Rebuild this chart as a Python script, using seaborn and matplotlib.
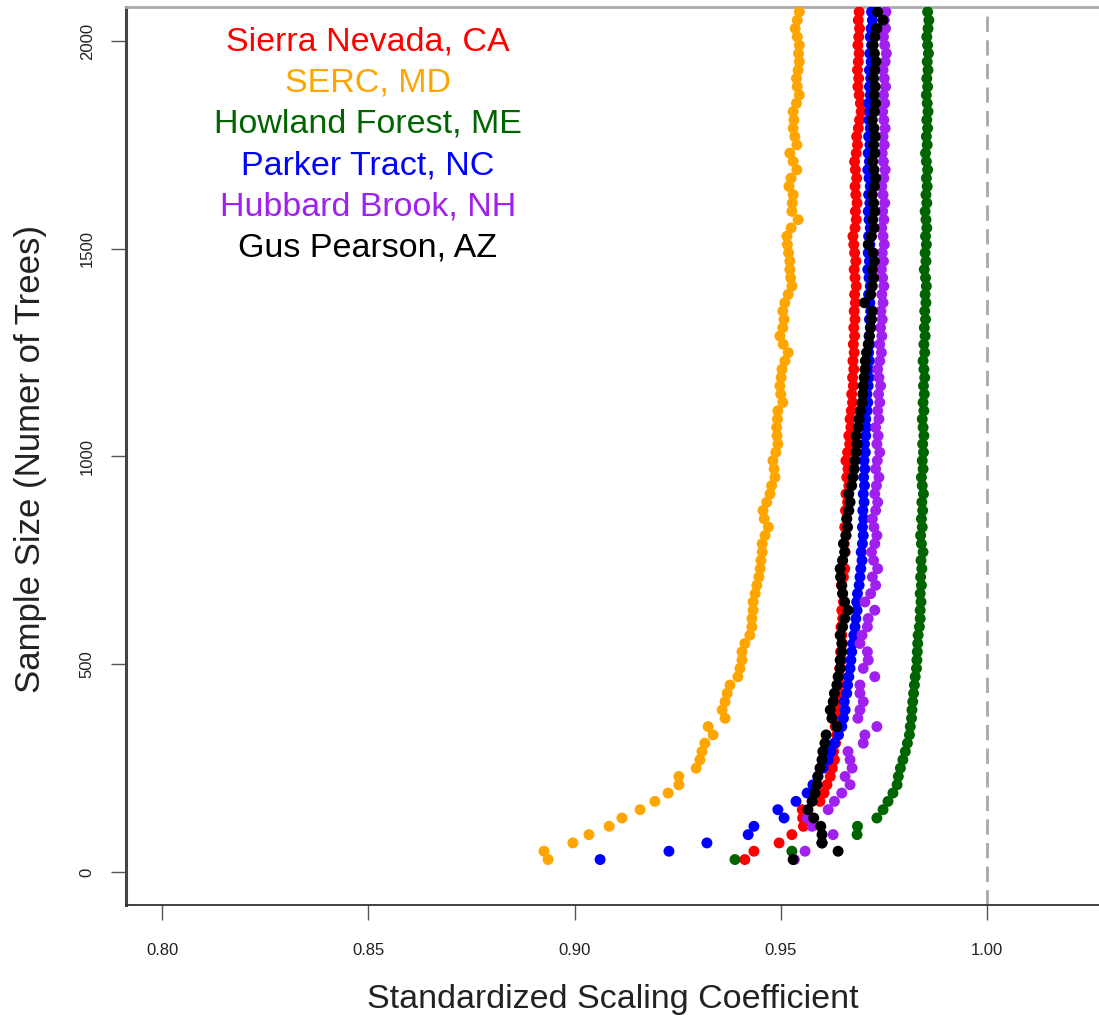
import numpy as np
import pandas as pd
import matplotlib
matplotlib.use("Agg")
import matplotlib.pyplot as plt
import seaborn as sns

# Sample sizes (number of trees) at which the scaling coefficient was estimated
sample_sizes = np.arange(30, 2080, 20)

sites = ["Sierra Nevada, CA", "SERC, MD", "Howland Forest, ME",
         "Parker Tract, NC", "Hubbard Brook, NH", "Gus Pearson, AZ"]
site_colors = ["#FF0000", "#FFA500", "#006400", "#0000FF", "#A020F0", "#000000"]

sierra_nevada = [
    0.9413, 0.9435, 0.9496, 0.9527, 0.9555, 0.9553, 0.9552, 0.9595, 0.9605, 0.9612,
    0.9620, 0.9625, 0.9630, 0.9628, 0.9633, 0.9636, 0.9632, 0.9638, 0.9635, 0.9639,
    0.9642, 0.9640, 0.9645, 0.9643, 0.9648, 0.9645, 0.9650, 0.9648, 0.9646, 0.9650,
    0.9648, 0.9652, 0.9650, 0.9647, 0.9652, 0.9655, 0.9650, 0.9656, 0.9654, 0.9658,
    0.9655, 0.9660, 0.9657, 0.9662, 0.9658, 0.9665, 0.9660, 0.9663, 0.9658, 0.9662,
    0.9667, 0.9665, 0.9670, 0.9668, 0.9671, 0.9674, 0.9672, 0.9676, 0.9674, 0.9677,
    0.9675, 0.9678, 0.9676, 0.9679, 0.9677, 0.9680, 0.9678, 0.9681, 0.9679, 0.9683,
    0.9680, 0.9678, 0.9682, 0.9679, 0.9677, 0.9675, 0.9680, 0.9683, 0.9681, 0.9685,
    0.9682, 0.9680, 0.9684, 0.9681, 0.9679, 0.9683, 0.9686, 0.9684, 0.9688, 0.9691,
    0.9695, 0.9693, 0.9690, 0.9687, 0.9689, 0.9686, 0.9688, 0.9690, 0.9687, 0.9689,
    0.9691, 0.9688, 0.9690,
]

serc = [
    0.8936, 0.8926, 0.8996, 0.9035, 0.9084, 0.9115, 0.9159, 0.9195, 0.9227, 0.9253,
    0.9253, 0.9295, 0.9304, 0.9309, 0.9316, 0.9336, 0.9324, 0.9365, 0.9358, 0.9365,
    0.9370, 0.9377, 0.9396, 0.9401, 0.9406, 0.9406, 0.9413, 0.9425, 0.9430, 0.9430,
    0.9433, 0.9433, 0.9438, 0.9442, 0.9447, 0.9450, 0.9452, 0.9455, 0.9455, 0.9462,
    0.9470, 0.9460, 0.9457, 0.9466, 0.9474, 0.9478, 0.9486, 0.9484, 0.9481, 0.9488,
    0.9493, 0.9491, 0.9490, 0.9492, 0.9493, 0.9505, 0.9500, 0.9498, 0.9501, 0.9503,
    0.9510, 0.9518, 0.9506, 0.9498, 0.9505, 0.9508, 0.9505, 0.9510, 0.9518, 0.9527,
    0.9524, 0.9522, 0.9522, 0.9519, 0.9516, 0.9515, 0.9525, 0.9542, 0.9527, 0.9528,
    0.9530, 0.9520, 0.9525, 0.9539, 0.9530, 0.9522, 0.9539, 0.9534, 0.9530, 0.9532,
    0.9530, 0.9538, 0.9545, 0.9540, 0.9538, 0.9542, 0.9545, 0.9543, 0.9545, 0.9540,
    0.9535, 0.9540, 0.9545,
]

howland = [
    0.9389, 0.9527, 0.9600, 0.9685, 0.9686, 0.9733, 0.9748, 0.9760, 0.9772, 0.9782,
    0.9785, 0.9790, 0.9796, 0.9802, 0.9807, 0.9812, 0.9814, 0.9817, 0.9818, 0.9820,
    0.9822, 0.9824, 0.9826, 0.9829, 0.9830, 0.9831, 0.9832, 0.9833, 0.9836, 0.9838,
    0.9838, 0.9840, 0.9838, 0.9841, 0.9839, 0.9842, 0.9840, 0.9845, 0.9841, 0.9839,
    0.9843, 0.9841, 0.9844, 0.9842, 0.9846, 0.9843, 0.9841, 0.9845, 0.9843, 0.9846,
    0.9844, 0.9847, 0.9845, 0.9843, 0.9847, 0.9845, 0.9848, 0.9846, 0.9849, 0.9847,
    0.9845, 0.9849, 0.9847, 0.9850, 0.9848, 0.9851, 0.9849, 0.9852, 0.9850, 0.9853,
    0.9851, 0.9848, 0.9852, 0.9850, 0.9853, 0.9851, 0.9854, 0.9852, 0.9850, 0.9854,
    0.9852, 0.9855, 0.9853, 0.9856, 0.9853, 0.9851, 0.9855, 0.9853, 0.9856, 0.9854,
    0.9857, 0.9855, 0.9853, 0.9856, 0.9854, 0.9857, 0.9855, 0.9858, 0.9856, 0.9854,
    0.9857, 0.9859, 0.9856,
]

parker_tract = [
    0.9062, 0.9229, 0.9321, 0.9421, 0.9435, 0.9508, 0.9493, 0.9537, 0.9564, 0.9578,
    0.9590, 0.9603, 0.9615, 0.9622, 0.9630, 0.9640, 0.9648, 0.9652, 0.9656, 0.9654,
    0.9660, 0.9662, 0.9665, 0.9668, 0.9670, 0.9672, 0.9675, 0.9677, 0.9680, 0.9682,
    0.9685, 0.9684, 0.9686, 0.9690, 0.9692, 0.9694, 0.9697, 0.9695, 0.9698, 0.9700,
    0.9698, 0.9701, 0.9699, 0.9702, 0.9700, 0.9703, 0.9701, 0.9704, 0.9702, 0.9705,
    0.9703, 0.9706, 0.9708, 0.9706, 0.9709, 0.9711, 0.9709, 0.9712, 0.9714, 0.9712,
    0.9715, 0.9713, 0.9716, 0.9714, 0.9717, 0.9715, 0.9718, 0.9716, 0.9713, 0.9717,
    0.9714, 0.9711, 0.9715, 0.9712, 0.9716, 0.9713, 0.9717, 0.9714, 0.9712, 0.9716,
    0.9713, 0.9717, 0.9714, 0.9711, 0.9715, 0.9712, 0.9716, 0.9713, 0.9717, 0.9714,
    0.9716, 0.9713, 0.9717, 0.9715, 0.9718, 0.9715, 0.9719, 0.9716, 0.9720, 0.9717,
    0.9719, 0.9722, 0.9720,
]

hubbard_brook = [
    0.9533, 0.9559, 0.9600, 0.9627, 0.9576, 0.9564, 0.9615, 0.9630, 0.9648, 0.9668,
    0.9656, 0.9673, 0.9668, 0.9663, 0.9700, 0.9704, 0.9733, 0.9687, 0.9692, 0.9700,
    0.9692, 0.9692, 0.9728, 0.9700, 0.9712, 0.9710, 0.9692, 0.9697, 0.9710, 0.9712,
    0.9728, 0.9704, 0.9718, 0.9730, 0.9722, 0.9735, 0.9725, 0.9720, 0.9728, 0.9733,
    0.9726, 0.9722, 0.9730, 0.9735, 0.9728, 0.9732, 0.9738, 0.9730, 0.9734, 0.9740,
    0.9733, 0.9736, 0.9730, 0.9738, 0.9735, 0.9740, 0.9737, 0.9742, 0.9738, 0.9735,
    0.9740, 0.9744, 0.9740, 0.9745, 0.9742, 0.9746, 0.9743, 0.9748, 0.9745, 0.9750,
    0.9747, 0.9744, 0.9749, 0.9746, 0.9751, 0.9748, 0.9745, 0.9750, 0.9747, 0.9752,
    0.9748, 0.9745, 0.9750, 0.9753, 0.9749, 0.9746, 0.9751, 0.9748, 0.9753, 0.9750,
    0.9747, 0.9752, 0.9749, 0.9754, 0.9751, 0.9748, 0.9753, 0.9756, 0.9752, 0.9749,
    0.9754, 0.9751, 0.9755,
]

gus_pearson = [
    0.9530, 0.9639, 0.9600, 0.9600, 0.9597, 0.9580, 0.9566, 0.9576, 0.9583, 0.9588,
    0.9590, 0.9595, 0.9600, 0.9602, 0.9607, 0.9610, 0.9636, 0.9624, 0.9620, 0.9627,
    0.9630, 0.9636, 0.9639, 0.9644, 0.9644, 0.9648, 0.9648, 0.9644, 0.9650, 0.9655,
    0.9663, 0.9655, 0.9650, 0.9648, 0.9645, 0.9644, 0.9650, 0.9655, 0.9652, 0.9658,
    0.9662, 0.9660, 0.9665, 0.9668, 0.9665, 0.9672, 0.9675, 0.9678, 0.9680, 0.9683,
    0.9685, 0.9683, 0.9688, 0.9690, 0.9693, 0.9697, 0.9699, 0.9700, 0.9702, 0.9704,
    0.9705, 0.9708, 0.9712, 0.9715, 0.9718, 0.9720, 0.9722, 0.9703, 0.9718, 0.9722,
    0.9725, 0.9722, 0.9727, 0.9724, 0.9712, 0.9720, 0.9726, 0.9723, 0.9728, 0.9725,
    0.9722, 0.9727, 0.9730, 0.9726, 0.9723, 0.9728, 0.9725, 0.9729, 0.9726, 0.9722,
    0.9727, 0.9730, 0.9726, 0.9729, 0.9725, 0.9728, 0.9731, 0.9727, 0.9724, 0.9728,
    0.9733, 0.9748, 0.9735,
]

x_ticks = [0.80, 0.85, 0.90, 0.95, 1.00]
x_tick_labels = ["0.80", "0.85", "0.90", "0.95", "1.00"]
y_ticks = [0, 500, 1000, 1500, 2000]

series = [sierra_nevada, serc, howland, parker_tract, hubbard_brook, gus_pearson]
frames = []
for name, vals in zip(sites, series):
    n = min(len(vals), len(sample_sizes))
    frames.append(pd.DataFrame({"site": name,
                                "coef": vals[:n],
                                "n": sample_sizes[:n]}))
df = pd.concat(frames, ignore_index=True)

sns.set_style("white")
plt.rcParams["font.family"] = ["Liberation Sans", "DejaVu Sans"]

fig = plt.figure(figsize=(10.99, 10.23), dpi=100)
ax = fig.add_axes([126 / 1099, 118 / 1023, 973 / 1099, 898 / 1023])

sns.scatterplot(data=df, x="coef", y="n", hue="site", hue_order=sites,
                palette=site_colors, s=62, linewidth=0, alpha=1.0,
                legend=False, ax=ax, zorder=3)

ax.axvline(1.0, color="#a8a8a8", lw=2.0, ls=(0, (5.5, 3.0)), zorder=1)

ax.set_xlim(0.79127, 1.02715)
ax.set_ylim(-79.4, 2081.8)
ax.set_xticks(x_ticks)
ax.set_xticklabels(x_tick_labels, fontsize=12)
ax.set_yticks(y_ticks)
ax.set_yticklabels([str(v) for v in y_ticks], fontsize=12,
                   rotation=90, va="center")
ax.tick_params(axis="both", direction="out", length=10.5, width=1.0,
               color="#555555", labelcolor="#222222",
               bottom=True, left=True, top=False, right=False)
ax.tick_params(axis="x", pad=17)
ax.tick_params(axis="y", pad=12)

ax.set_xlabel("Standardized Scaling Coefficient", fontsize=24.5, color="#222222")
ax.set_ylabel("Sample Size (Numer of Trees)", fontsize=25, color="#222222")
ax.xaxis.set_label_coords(0.5, -0.088)
ax.yaxis.set_label_coords(-0.0815, 0.497)

ax.spines["left"].set_visible(True)
ax.spines["left"].set_color("#444444")
ax.spines["left"].set_linewidth(2.2)
ax.spines["bottom"].set_visible(True)
ax.spines["bottom"].set_color("#333333")
ax.spines["bottom"].set_linewidth(1.3)
ax.spines["top"].set_visible(True)
ax.spines["top"].set_color("#aaaaaa")
ax.spines["top"].set_linewidth(2.0)
ax.spines["right"].set_visible(False)

# Site names stacked as a colour key
label_y = [0.961, 0.9154, 0.8697, 0.8229, 0.7773, 0.7316]
for name, col, yy in zip(sites, site_colors, label_y):
    ax.text(0.2487, yy, name, color=col, fontsize=24.5, ha="center", va="center",
            transform=ax.transAxes, zorder=5)

ax.grid(False)
fig.savefig("out.png", dpi=100)
